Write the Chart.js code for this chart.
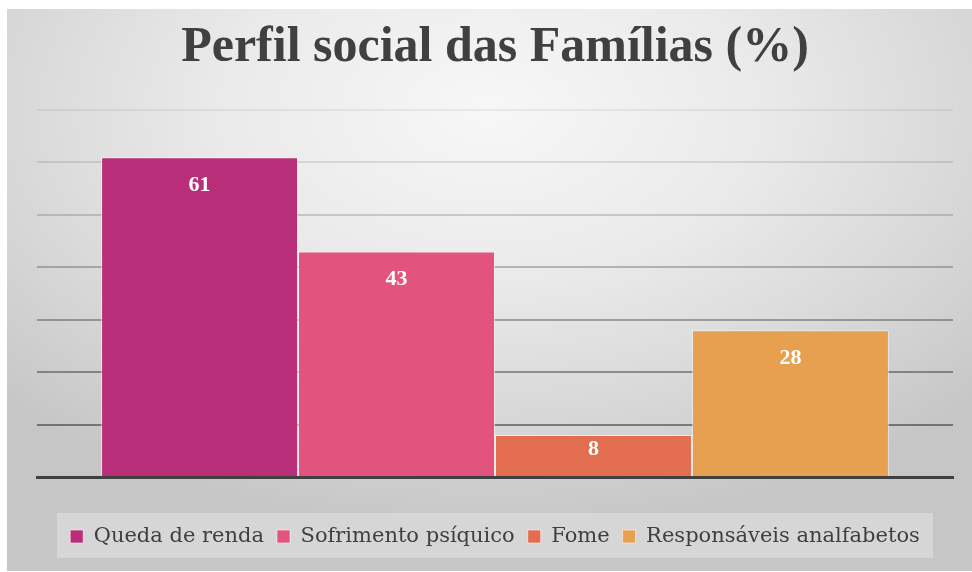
<!DOCTYPE html>
<html>
<head>
<meta charset="utf-8">
<script src="https://cdn.jsdelivr.net/npm/chart.js@4/dist/chart.umd.min.js"></script>
<style>
  html, body { margin: 0; padding: 0; background: #fff; }
  #panel {
    position: absolute; left: 7px; top: 9px; width: 965px; height: 562px;
    background: radial-gradient(ellipse 70% 75% at 50% 18%, #f7f7f7 0%, #eaeaea 40%, #d6d6d6 75%, #c6c6c6 100%);
  }
  #wrap { position: absolute; left: 0; top: 0; width: 965px; height: 562px; }
</style>
</head>
<body>
<div id="panel"><div id="wrap"><canvas id="chart"></canvas></div></div>
<script>
const categories = ['Perfil'];
const seriesNames = ['Queda de renda', 'Sofrimento psíquico', 'Fome', 'Responsáveis analfabetos'];
const seriesValues = [61, 43, 8, 28];
const seriesColors = ['#b92e78', '#e2537d', '#e36d51', '#e6a04f'];
const yTicks = [0, 10, 20, 30, 40, 50, 60, 70];

const serif = "'Liberation Serif', 'DejaVu Serif', serif";
const legendFont = "'DejaVu Serif', serif";
const gridAlpha = [0, 0.42, 0.36, 0.3, 0.24, 0.16, 0.1, 0.06];

const legendBox = {
  id: 'legendBox',
  beforeDraw(chart) {
    const l = chart.legend;
    const ctx = chart.ctx;
    ctx.save();
    ctx.fillStyle = 'rgba(255,255,255,0.28)';
    ctx.fillRect(50, l.top, 876, l.height + 1);
    ctx.restore();
  }
};

const barLabels = {
  id: 'barLabels',
  afterDatasetsDraw(chart) {
    const ctx = chart.ctx;
    ctx.save();
    ctx.fillStyle = '#ffffff';
    ctx.font = 'bold 22px ' + serif;
    ctx.textAlign = 'center';
    ctx.textBaseline = 'middle';
    chart.data.datasets.forEach((ds, i) => {
      const bar = chart.getDatasetMeta(i).data[0];
      const h = bar.base - bar.y;
      const y = bar.y + Math.min(28, h * 0.36);
      ctx.fillText(String(ds.data[0]), bar.x, y);
    });
    ctx.restore();
  }
};

new Chart(document.getElementById('chart'), {
  type: 'bar',
  data: {
    labels: categories,
    datasets: seriesNames.map((name, i) => ({
      label: name,
      data: [seriesValues[i]],
      backgroundColor: seriesColors[i],
      borderColor: 'rgba(255,255,255,0.55)',
      borderWidth: 1,
      barPercentage: 1,
      categoryPercentage: 0.86
    }))
  },
  options: {
    responsive: true,
    maintainAspectRatio: false,
    animation: false,
    layout: { padding: { left: 30, right: 19, top: 0, bottom: 14 } },
    scales: {
      x: {
        grid: { display: false },
        ticks: { display: false },
        border: { color: '#404040', width: 3 },
        afterFit(scale) { scale.height = 36; }
      },
      y: {
        min: 0,
        max: 70,
        z: 1,
        afterBuildTicks(scale) { scale.ticks = yTicks.map(v => ({ value: v })); },
        ticks: { display: false },
        border: { display: false },
        grid: {
          lineWidth: 2,
          drawTicks: false,
          color: ctx => 'rgba(0,0,0,' + gridAlpha[ctx.index] + ')'
        }
      }
    },
    plugins: {
      title: {
        display: true,
        text: 'Perfil social das Famílias (%)',
        color: '#404040',
        font: { family: serif, size: 50, weight: 'bold', lineHeight: 1.2 },
        padding: { top: 9, bottom: 32 }
      },
      legend: {
        position: 'bottom',
        labels: {
          color: '#404040',
          font: { family: legendFont, size: 21 },
          boxWidth: 13,
          boxHeight: 13,
          padding: 13
        }
      },
      tooltip: { enabled: false }
    }
  },
  plugins: [legendBox, barLabels]
});
</script>
</body>
</html>
